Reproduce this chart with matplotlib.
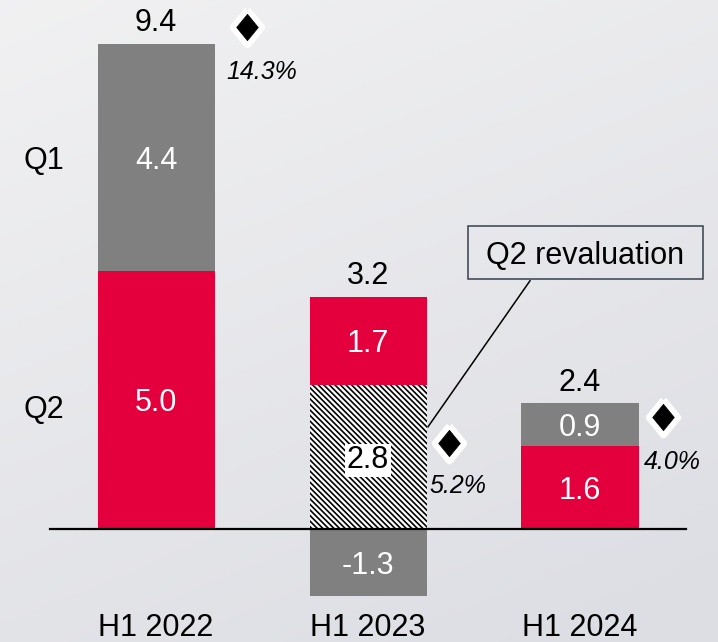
import numpy as np
import matplotlib.pyplot as plt
from matplotlib.patches import Rectangle
from matplotlib.markers import MarkerStyle

plt.rcParams['font.family'] = ['Liberation Sans', 'DejaVu Sans']
plt.rcParams['hatch.linewidth'] = 1.2
plt.rcParams['hatch.color'] = 'black'

# data
periods = ['H1 2022', 'H1 2023', 'H1 2024']
q1_values = [4.4, -1.3, 0.84]        # grey segment
reval_values = [0.0, 2.8, 0.0]       # hatched Q2 revaluation
q2_values = [5.0, 1.7, 1.6]          # red segment
q1_labels = ['4.4', '-1.3', '0.9']
q2_labels = ['5.0', '1.7', '1.6']
reval_labels = ['', '2.8', '']
total_labels = ['9.4', '3.2', '2.4']
margin_labels = ['14.3%', '5.2%', '4.0%']

RED = '#e4003d'
GREY = '#808080'
FS = 22

fig = plt.figure(figsize=(7.18, 6.42), dpi=100)

# soft grey background gradient
bg = fig.add_axes([0, 0, 1, 1], zorder=0)
yy, xx = np.mgrid[0:1:200j, 0:1:200j]
t = np.clip(0.35 * xx + 0.75 * yy, 0, 1)[..., None]
c0 = np.array([0.945, 0.945, 0.950])
c1 = np.array([0.870, 0.874, 0.895])
bg.imshow(c0 + (c1 - c0) * t, aspect='auto', extent=[0, 1, 0, 1], origin='upper')
bg.axis('off')

ax = fig.add_axes([0, 0, 1, 1], zorder=1)
ax.patch.set_alpha(0)
ax.set_xlim(-0.736, 2.651)
ax.set_ylim(-2.19, 10.252)
ax.axis('off')

x = np.arange(len(periods))
w = 0.552
q1 = np.array(q1_values)
reval = np.array(reval_values)
q2 = np.array(q2_values)

ax.bar(x, reval, w, color='white', hatch='\\' * 6, edgecolor='black', linewidth=0, zorder=2)
ax.bar(x, q2, w, bottom=reval, color=RED, linewidth=0, zorder=2)
q1_bottom = np.where(q1 > 0, reval + q2, 0)
ax.bar(x, q1, w, bottom=q1_bottom, color=GREY, linewidth=0, zorder=2)

ax.plot([-0.5, 2.5], [0, 0], color='black', lw=1.6, zorder=3)

# segment labels
for i in range(len(x)):
    ax.text(x[i], q1_bottom[i] + q1[i] / 2, q1_labels[i], color='white', fontsize=FS,
            ha='center', va='center_baseline', zorder=4)
    ax.text(x[i], reval[i] + q2[i] / 2, q2_labels[i], color='white', fontsize=FS,
            ha='center', va='center_baseline', zorder=4)
    if reval_labels[i]:
        ax.text(x[i], reval[i] / 2, reval_labels[i], color='black', fontsize=FS,
                ha='center', va='center_baseline', zorder=4,
                bbox=dict(boxstyle='square,pad=0.05', fc='white', ec='none'))
    top = reval[i] + q2[i] + max(q1[i], 0)
    ax.annotate(total_labels[i], (x[i], top), xytext=(0, 9), textcoords='offset points',
                ha='center', va='baseline', fontsize=FS)

# margin diamonds (slightly taller than wide, white halo)
diamond = [(0, 1), (0.82, 0), (0, -1), (-0.82, 0), (0, 1)]
halo = MarkerStyle(diamond, joinstyle='round')
diamond_dx = [0.429, 0.382, 0.392]
diamond_y = [9.73, 1.67, 2.17]
pct_dx = [0.50, 0.425, 0.434]
pct_y = [8.9, 0.89, 1.34]
for i in range(len(x)):
    ax.plot(x[i] + diamond_dx[i], diamond_y[i], marker=halo, ms=25, color='white',
            mec='white', mew=5, zorder=5)
    ax.plot(x[i] + diamond_dx[i], diamond_y[i], marker=diamond, ms=19, color='black',
            mec='black', mew=0.5, zorder=6)
    ax.text(x[i] + pct_dx[i], pct_y[i], margin_labels[i], fontsize=18, style='italic',
            ha='center', va='center_baseline', zorder=5)

# quarter labels
ax.text(-0.528, q2[0] + q1[0] / 2, 'Q1', fontsize=FS, ha='center', va='center_baseline')
ax.text(-0.528, q2[0] / 2 - 0.12, 'Q2', fontsize=FS, ha='center', va='center_baseline')

# category labels
for i, p in enumerate(periods):
    ax.text(x[i], -2.07, p, fontsize=FS, ha='center', va='baseline')

# callout box for the revaluation
ax.add_patch(Rectangle((1.472, 4.845), 1.108, 1.027, fc='none', ec='#34414f', lw=1.1, zorder=4))
ax.text(1.472 + 1.108 / 2, 4.845 + 1.027 / 2, 'Q2 revaluation', fontsize=FS,
        ha='center', va='center_baseline', zorder=4)
ax.plot([1.764, 1.283], [4.81, 1.98], color='black', lw=1.1, zorder=4)

fig.savefig('out.png', dpi=100)
